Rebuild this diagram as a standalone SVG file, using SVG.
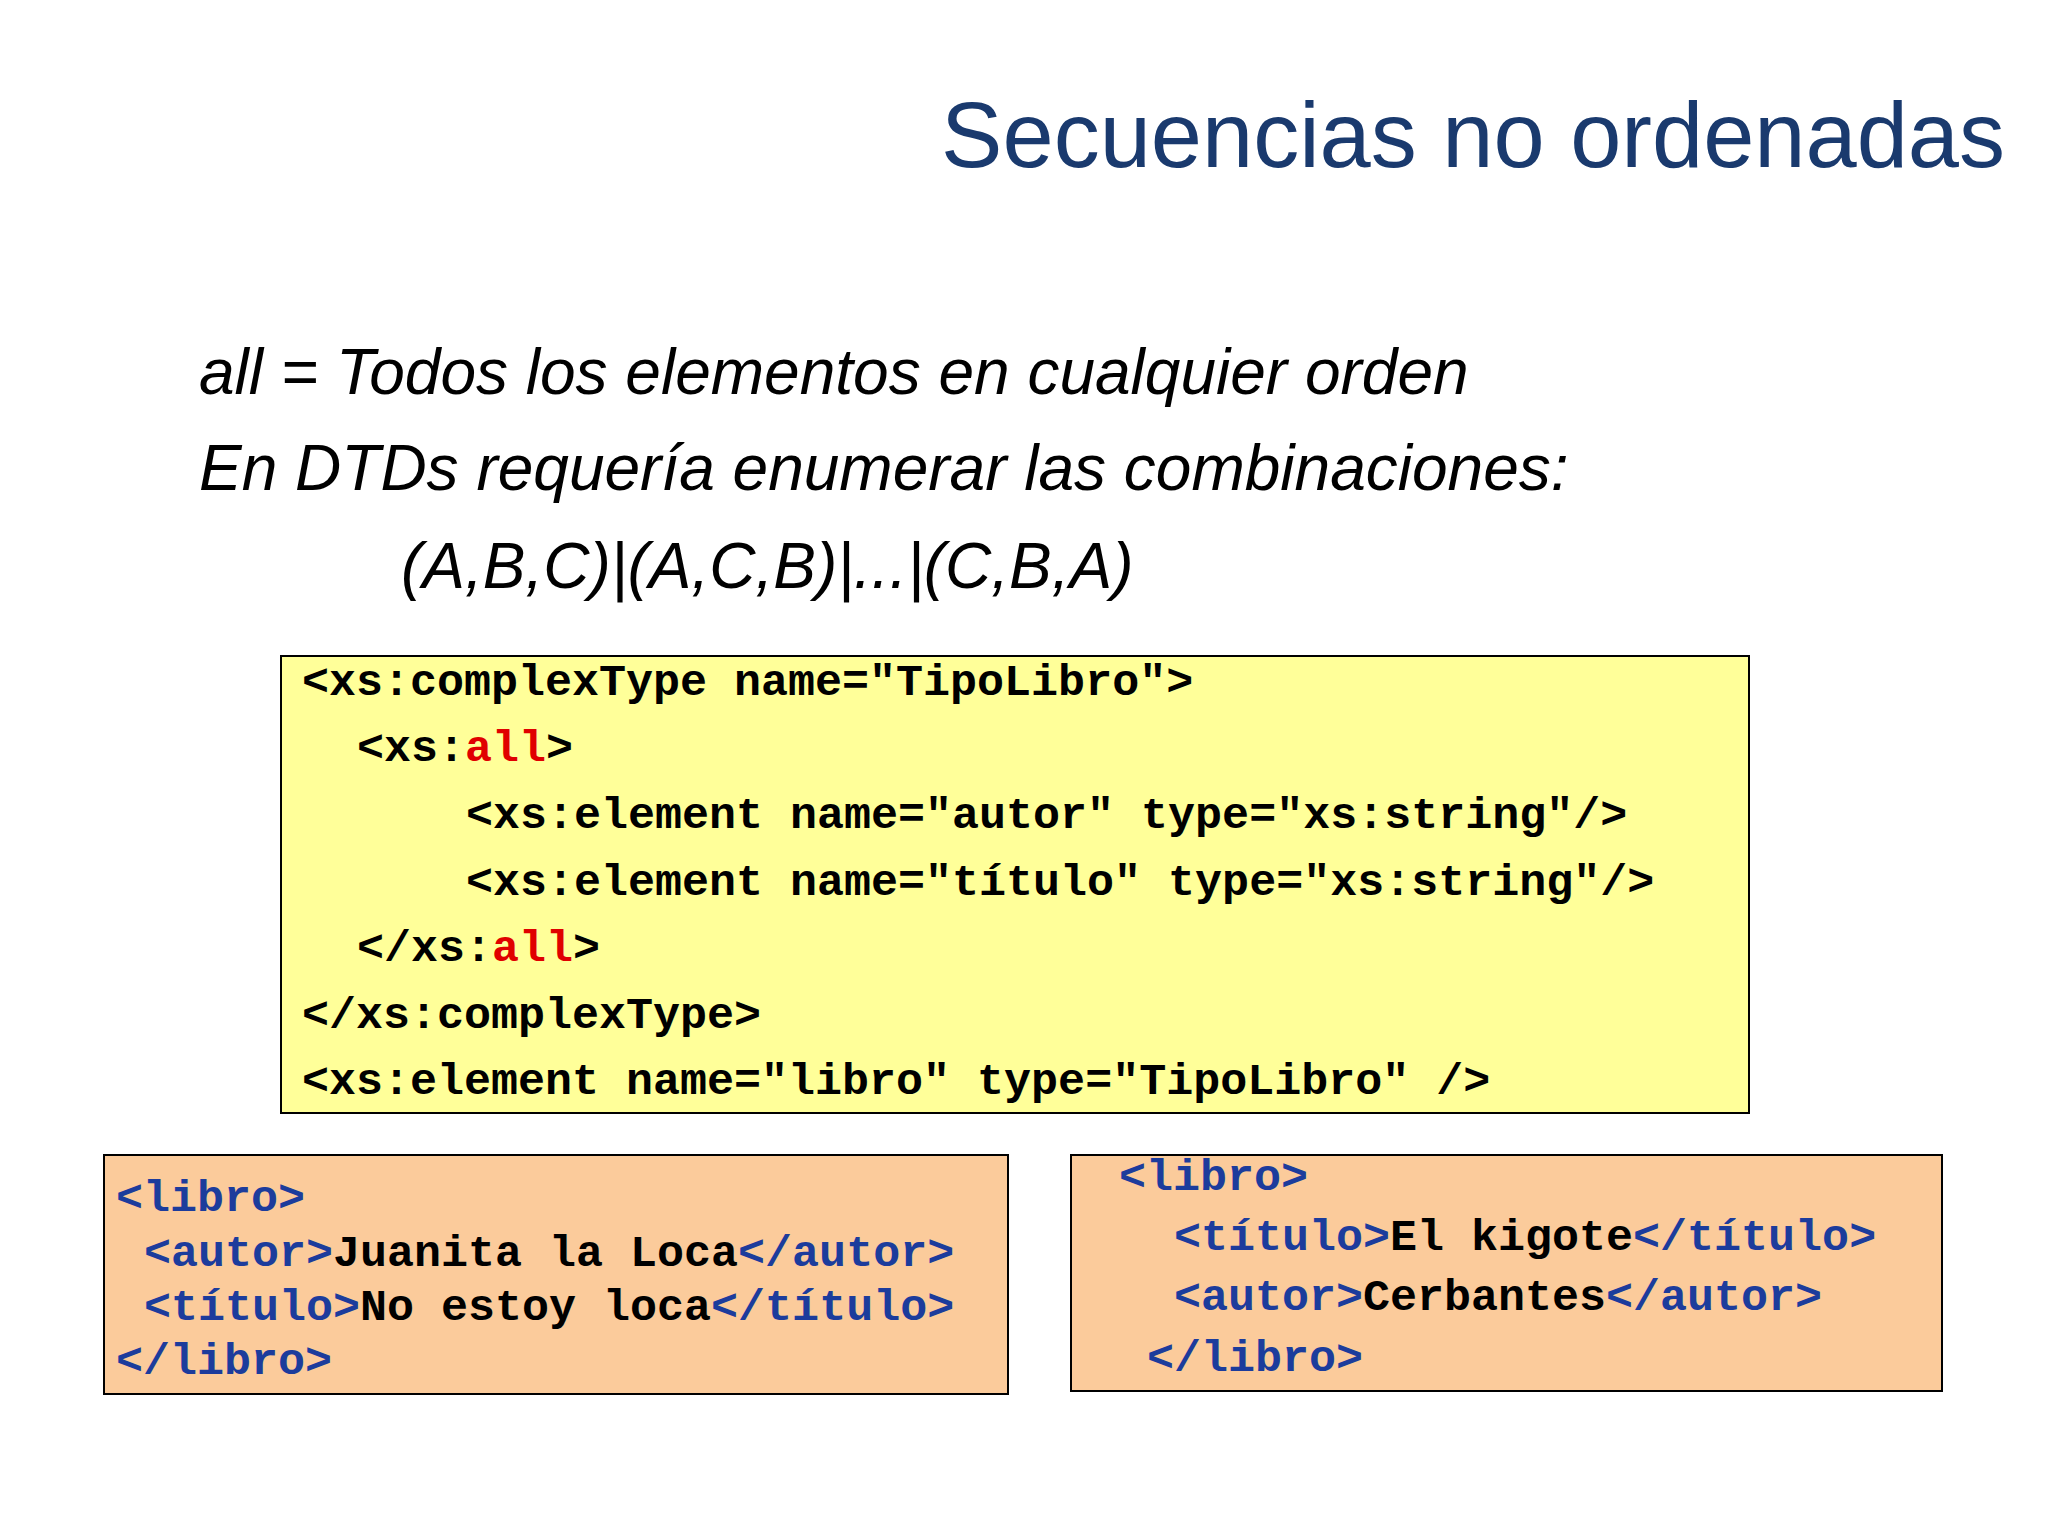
<svg xmlns="http://www.w3.org/2000/svg" width="2048" height="1536" viewBox="0 0 2048 1536">
<style>
.t{font-family:"Liberation Sans",Arial,sans-serif;fill:#1a3a6e;font-size:92px}
.b{font-family:"Liberation Sans",Arial,sans-serif;font-style:italic;fill:#000;font-size:64px}
.c{font-family:"Liberation Mono","Courier New",monospace;font-weight:bold;font-size:45px;fill:#000}
.r{fill:#e00000}
.u{fill:#1c3c9c}
</style>
<rect width="2048" height="1536" fill="#fff"/>
<text class="t" x="2005" y="167" text-anchor="end">Secuencias no ordenadas</text>
<g id="bullets">
<text class="b" x="199" y="394">all = Todos los elementos en cualquier orden</text>
<text class="b" x="199" y="490">En DTDs requería enumerar las combinaciones:</text>
<text class="b" x="401" y="588">(A,B,C)|(A,C,B)|...|(C,B,A)</text>
</g>
<g id="schema">
<rect x="281" y="656" width="1468" height="457" fill="#ffff99" stroke="#000" stroke-width="2"/>
<text class="c" x="302" y="695">&lt;xs:complexType name="TipoLibro"&gt;</text>
<text class="c" x="357" y="761">&lt;xs:<tspan class="r">all</tspan>&gt;</text>
<text class="c" x="466" y="828">&lt;xs:element name="autor" type="xs:string"/&gt;</text>
<text class="c" x="466" y="895">&lt;xs:element name="título" type="xs:string"/&gt;</text>
<text class="c" x="357" y="961">&lt;/xs:<tspan class="r">all</tspan>&gt;</text>
<text class="c" x="302" y="1028">&lt;/xs:complexType&gt;</text>
<text class="c" x="302" y="1094">&lt;xs:element name="libro" type="TipoLibro" /&gt;</text>
</g>
<g id="ex1">
<rect x="104" y="1155" width="904" height="239" fill="#fbcb9b" stroke="#000" stroke-width="2"/>
<text class="c u" x="116" y="1211">&lt;libro&gt;</text>
<text class="c" x="144" y="1266"><tspan class="u">&lt;autor&gt;</tspan>Juanita la Loca<tspan class="u">&lt;/autor&gt;</tspan></text>
<text class="c" x="144" y="1320"><tspan class="u">&lt;título&gt;</tspan>No estoy loca<tspan class="u">&lt;/título&gt;</tspan></text>
<text class="c u" x="116" y="1374">&lt;/libro&gt;</text>
</g>
<g id="ex2">
<rect x="1071" y="1155" width="871" height="236" fill="#fbcb9b" stroke="#000" stroke-width="2"/>
<text class="c u" x="1119" y="1190">&lt;libro&gt;</text>
<text class="c" x="1174" y="1250"><tspan class="u">&lt;título&gt;</tspan>El kigote<tspan class="u">&lt;/título&gt;</tspan></text>
<text class="c" x="1174" y="1310"><tspan class="u">&lt;autor&gt;</tspan>Cerbantes<tspan class="u">&lt;/autor&gt;</tspan></text>
<text class="c u" x="1147" y="1371">&lt;/libro&gt;</text>
</g>
<g id="connectors"/>
</svg>
